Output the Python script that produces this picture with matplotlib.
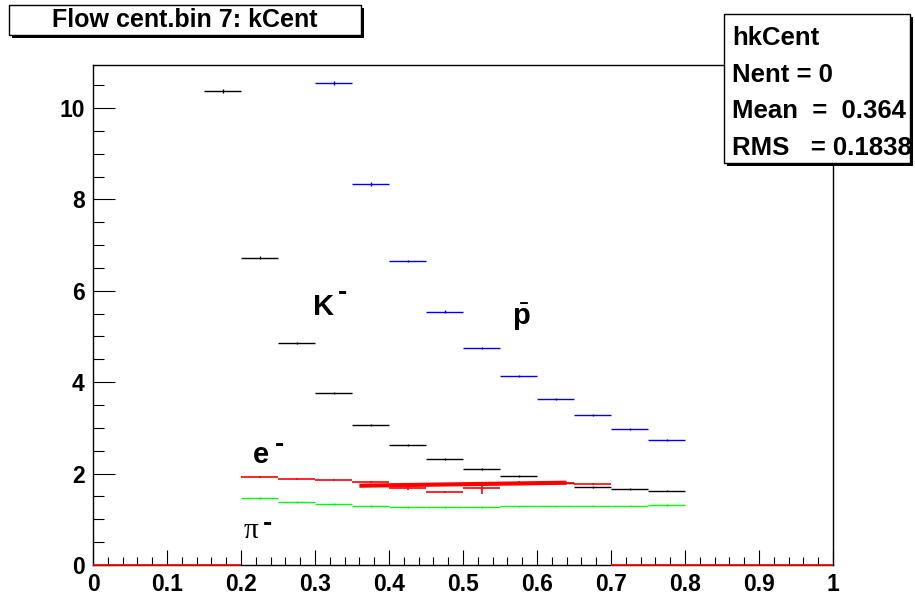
import matplotlib
matplotlib.use("Agg")
import matplotlib.pyplot as plt
import numpy as np
from matplotlib.patches import Rectangle
from matplotlib.ticker import MultipleLocator, FormatStrFormatter
from matplotlib.transforms import Bbox, TransformedBbox

plt.rcParams["font.family"] = ["Liberation Sans", "DejaVu Sans"]
plt.rcParams["mathtext.fontset"] = "custom"
plt.rcParams["mathtext.rm"] = "Liberation Sans"
plt.rcParams["mathtext.bf"] = "Liberation Sans:bold"

BIN_W = 0.05

# K- (black), bins start at 0.15
kminus_lo = 0.15
kminus_vals = [10.37, 6.72, 4.86, 3.76, 3.06, 2.63, 2.32, 2.10, 1.95, 1.80, 1.71, 1.66, 1.63]
kminus_errs = [0.04, 0.03, 0.03, 0.02, 0.02, 0.02, 0.02, 0.02, 0.02, 0.02, 0.02, 0.02, 0.02]

# anti-proton (blue), bins start at 0.30
pbar_lo = 0.30
pbar_vals = [10.55, 8.34, 6.65, 5.54, 4.74, 4.14, 3.63, 3.28, 2.98, 2.73]
pbar_errs = [0.05, 0.04, 0.03, 0.03, 0.02, 0.02, 0.02, 0.02, 0.02, 0.02]

# pi- (green), bins start at 0.20
piminus_lo = 0.20
piminus_vals = [1.47, 1.38, 1.33, 1.29, 1.27, 1.26, 1.27, 1.28, 1.28, 1.30, 1.30, 1.32]
piminus_errs = [0.02] * 12

# e- (red), full 0..1 range, empty bins drawn at zero
eminus_lo = 0.0
eminus_vals = [0, 0, 0, 0, 1.92, 1.89, 1.86, 1.81, 1.68, 1.60,
               1.68, 1.79, 1.79, 1.77, 0, 0, 0, 0, 0, 0]
eminus_errs = [0, 0, 0, 0, 0.02, 0.02, 0.02, 0.02, 0.03, 0.03,
               0.13, 0.05, 0.03, 0.03, 0, 0, 0, 0, 0, 0]

# linear fit on e-
efit_x = [0.36, 0.64]
efit_y = [1.735, 1.80]

stats_lines = ["hkCent", "Nent = 0", "Mean  =  0.364", "RMS   = 0.1838"]
title_text = "Flow cent.bin 7: kCent"

W, H = 915, 600
fig = plt.figure(figsize=(W / 100, H / 100), dpi=100)
fig.patch.set_facecolor("white")


def px(x0, y0, x1, y1):
    """pixel box (top-left origin) -> figure fraction [l, b, w, h]"""
    return [x0 / W, 1 - y1 / H, (x1 - x0) / W, (y1 - y0) / H]


ax = fig.add_axes(px(93, 65, 833, 565))
ax.set_xlim(0, 1)
ax.set_ylim(0, 10.94)


def draw_hist(lo, vals, errs, color, lw=1.0, z=2):
    n = len(vals)
    centers = lo + BIN_W * (np.arange(n) + 0.5)
    eb = ax.errorbar(centers, vals, xerr=BIN_W / 2, yerr=errs, fmt="none",
                     ecolor=color, elinewidth=lw, capsize=0, zorder=z)
    for c in eb.lines[2]:
        c.set_clip_on(False)


draw_hist(kminus_lo, kminus_vals, kminus_errs, "black")
draw_hist(pbar_lo, pbar_vals, pbar_errs, "#0000ff")
draw_hist(piminus_lo, piminus_vals, piminus_errs, "#00ff00")
draw_hist(eminus_lo, eminus_vals, eminus_errs, "#ff0000", lw=1.2, z=3)
ax.plot(efit_x, efit_y, color="#ff0000", lw=3.0, solid_capstyle="butt", zorder=3)

# axes styling, ROOT-like
for s in ax.spines.values():
    s.set_linewidth(1.0)
    s.set_zorder(2.6)
ax.xaxis.set_major_locator(MultipleLocator(0.1))
ax.xaxis.set_minor_locator(MultipleLocator(0.02))
ax.yaxis.set_major_locator(MultipleLocator(2))
ax.yaxis.set_minor_locator(MultipleLocator(0.5))
ax.xaxis.set_major_formatter(FormatStrFormatter("%g"))
ax.yaxis.set_major_formatter(FormatStrFormatter("%g"))
ax.tick_params(axis="x", which="major", direction="in", length=11, width=0.8,
               labelsize=16.5, pad=6, top=False)
ax.tick_params(axis="x", which="minor", direction="in", length=5.5, width=0.8, top=False)
ax.tick_params(axis="y", which="major", direction="in", length=16, width=0.8,
               labelsize=16.5, pad=6, right=False)
ax.tick_params(axis="y", which="minor", direction="in", length=8, width=0.8, right=False)
for lab in ax.get_xticklabels() + ax.get_yticklabels():
    lab.set_fontweight("bold")

# particle labels
bold = dict(fontweight="bold", va="baseline", ha="left")
ax.text(0.297, 5.47, "K", fontsize=21, **bold)
ax.text(0.331, 5.80, "-", fontsize=20, **bold)
ax.text(0.566, 5.25, r"$\bar{\mathbf{p}}$", fontsize=21, va="baseline", ha="left")
ax.text(0.216, 2.23, "e", fontsize=21, **bold)
ax.text(0.246, 2.48, "-", fontsize=20, **bold)
ax.text(0.203, 0.59, "\u03c0", fontsize=21, family="Liberation Serif",
        va="baseline", ha="left")
ax.text(0.230, 0.75, "-", fontsize=20, **bold)

# title box with shadow
tx0, ty0, tx1, ty1 = 9, 5, 361, 35
fig.patches.append(Rectangle((tx0 / W + 3 / W, 1 - ty1 / H - 3 / H), (tx1 - tx0) / W,
                             (ty1 - ty0) / H, transform=fig.transFigure,
                             facecolor="black", edgecolor="black", lw=0))
fig.patches.append(Rectangle((tx0 / W, 1 - ty1 / H), (tx1 - tx0) / W, (ty1 - ty0) / H,
                             transform=fig.transFigure, facecolor="white",
                             edgecolor="black", lw=1.0))
fig.text((tx0 + tx1) / 2 / W, 1 - 27 / H, title_text, ha="center", va="baseline",
         fontsize=18, fontweight="bold")

# stats box with shadow
sx0, sy0, sx1, sy1 = 724, 14, 910, 163
fig.patches.append(Rectangle((sx0 / W + 3 / W, 1 - sy1 / H - 3 / H), (sx1 - sx0) / W,
                             (sy1 - sy0) / H, transform=fig.transFigure,
                             facecolor="black", edgecolor="black", lw=0, zorder=5))
fig.patches.append(Rectangle((sx0 / W, 1 - sy1 / H), (sx1 - sx0) / W, (sy1 - sy0) / H,
                             transform=fig.transFigure, facecolor="white",
                             edgecolor="black", lw=1.0, zorder=6))
clip = TransformedBbox(Bbox([[sx0 / W, 1 - sy1 / H], [sx1 / W, 1 - sy0 / H]]),
                       fig.transFigure)
for i, line in enumerate(stats_lines):
    t = fig.text(732 / W, 1 - (45 + 36.5 * i) / H, line, ha="left", va="baseline",
                 fontsize=18.5, fontweight="bold", zorder=7)
    t.set_clip_box(clip)
    t.set_clip_on(True)

fig.savefig("out.png", dpi=100)
